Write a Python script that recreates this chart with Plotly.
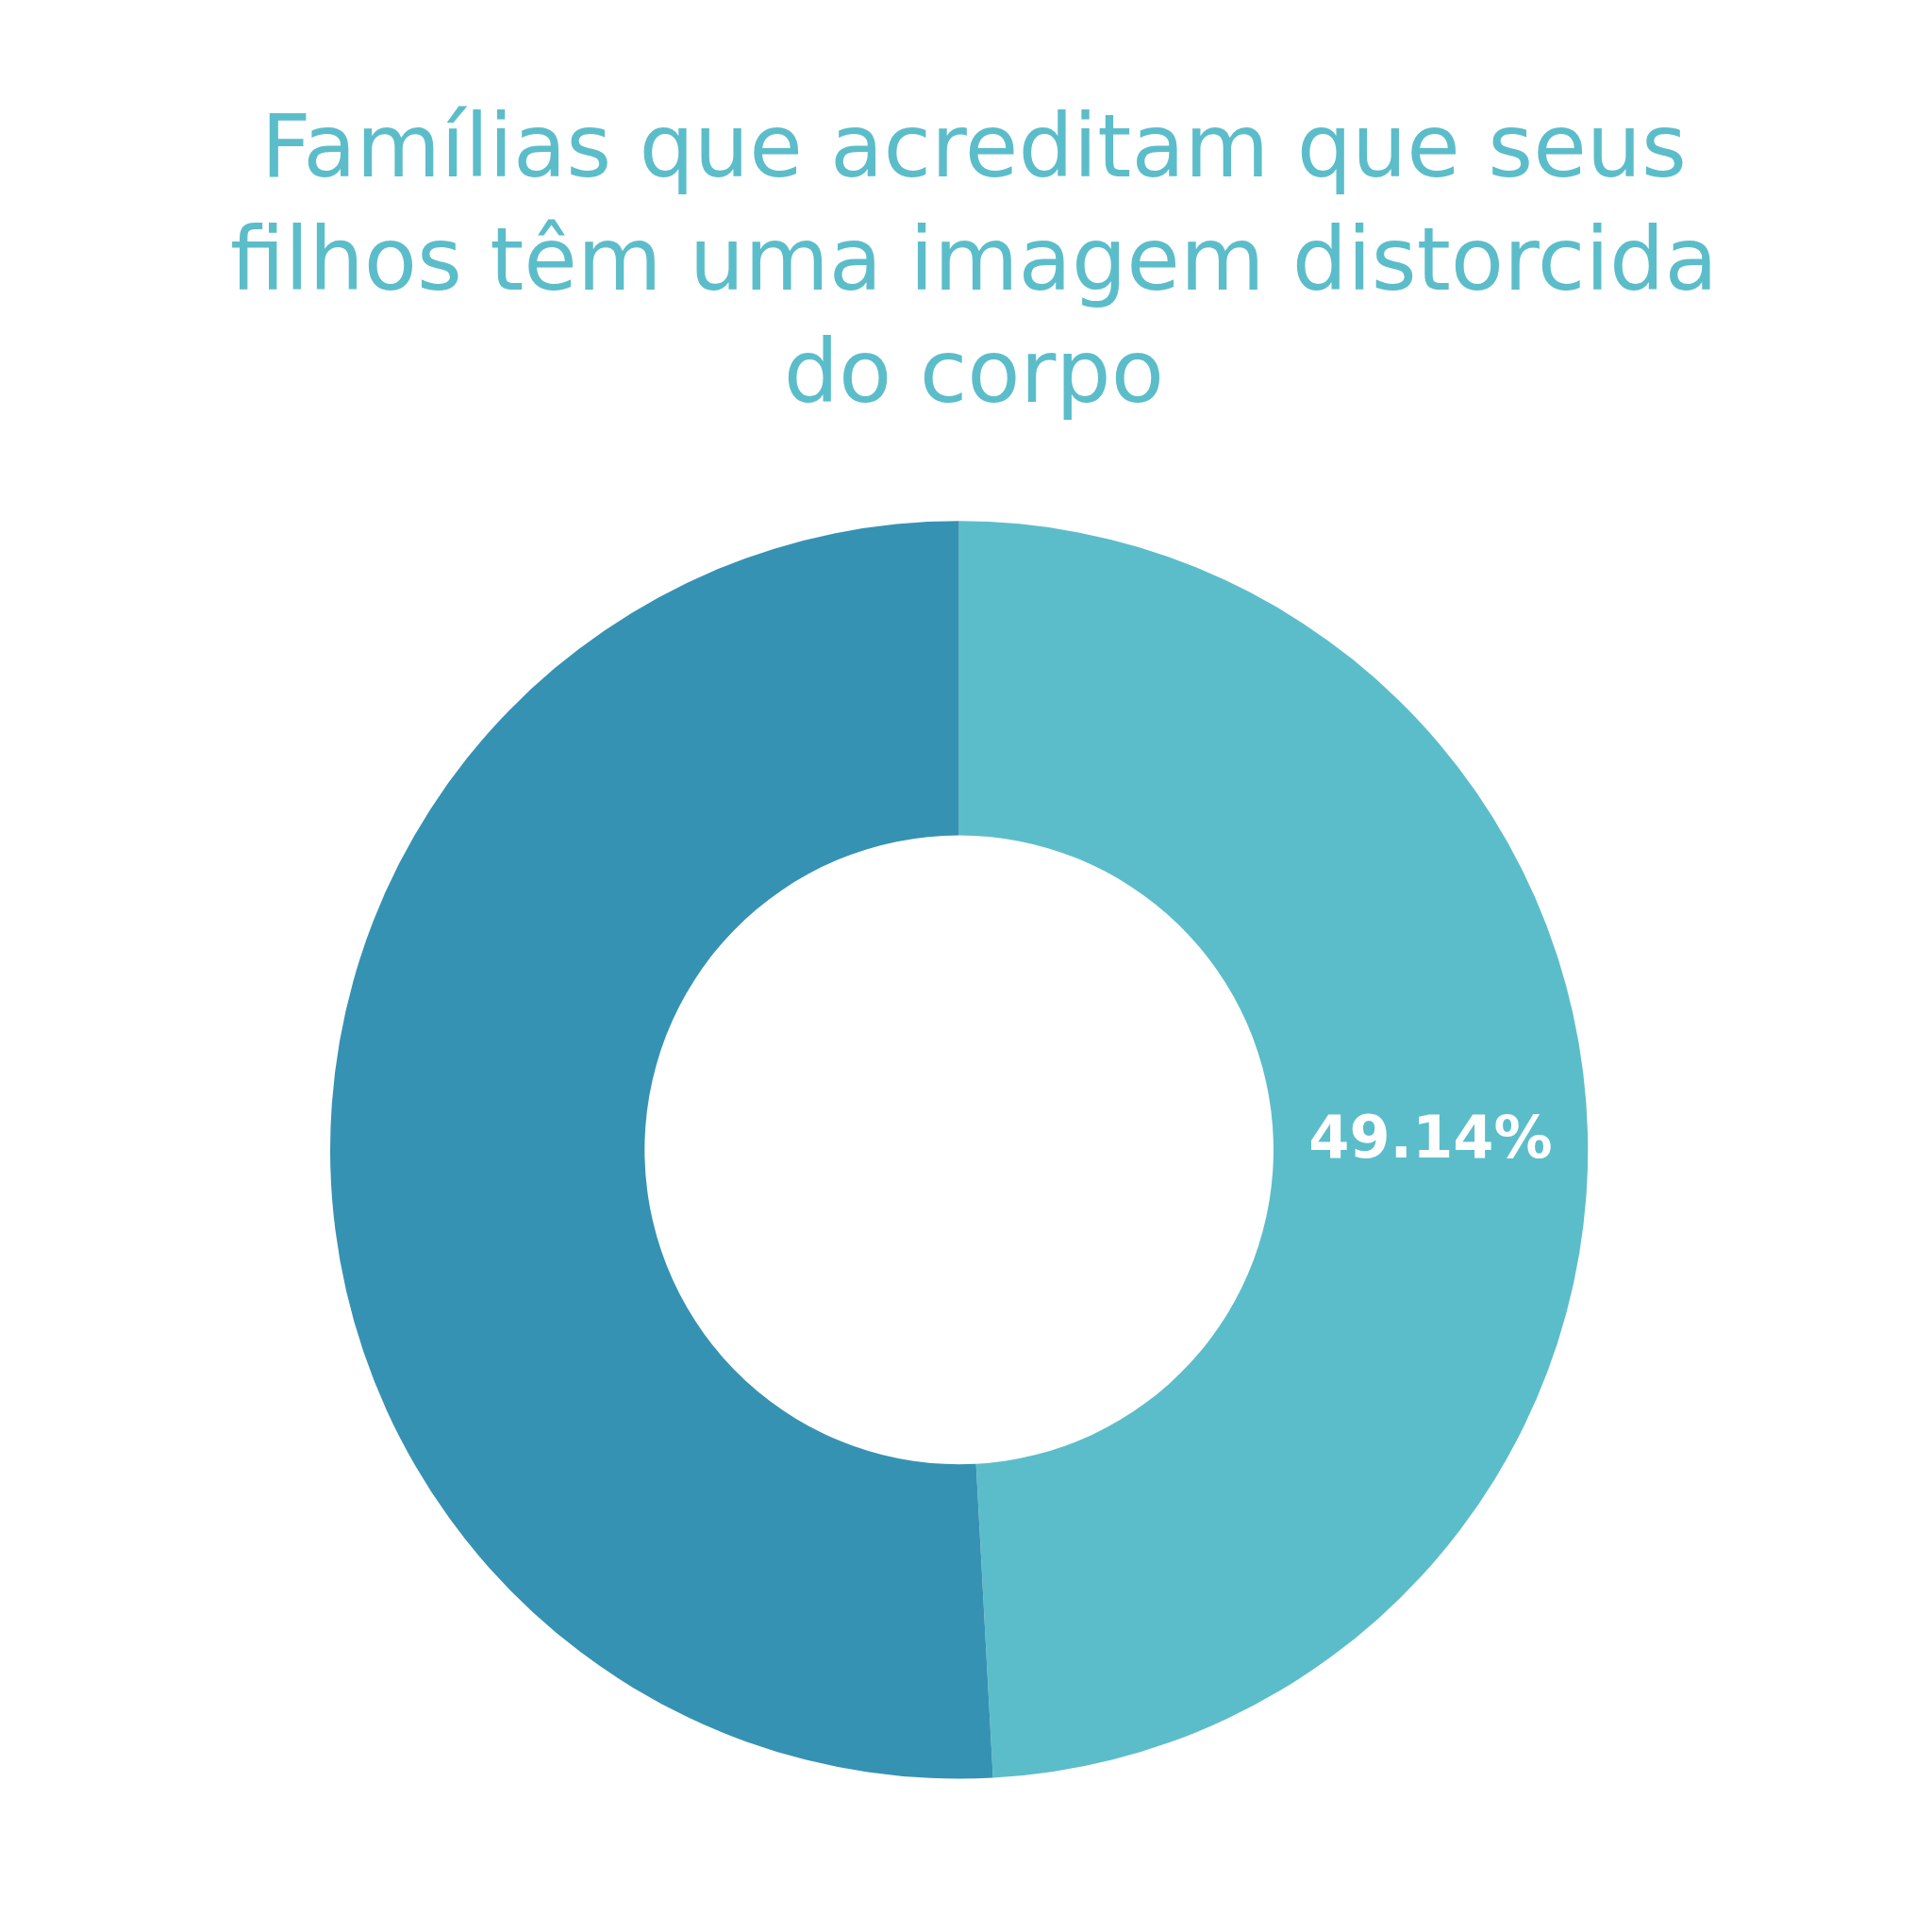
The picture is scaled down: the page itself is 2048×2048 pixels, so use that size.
import plotly.graph_objects as go

labels = ["Sim", "Não"]
values = [49.14, 50.86]
colors = ["#5cbdca", "#3692b3"]
shown_text = ["49.14%", ""]
title_text = "Famílias que acreditam que seus<br>filhos têm uma imagem distorcida<br>do corpo"

fig = go.Figure(
    go.Pie(
        labels=labels,
        values=values,
        hole=0.5,
        sort=False,
        direction="clockwise",
        rotation=0,
        marker=dict(colors=colors),
        text=shown_text,
        textinfo="text",
        textposition="inside",
        insidetextorientation="horizontal",
        textfont=dict(family="DejaVu Sans", size=62, color="white", weight="bold"),
        domain=dict(x=[0.167, 0.818], y=[0.083, 0.7345]),
        showlegend=False,
    )
)

fig.update_layout(
    width=2048,
    height=2048,
    paper_bgcolor="white",
    margin=dict(l=0, r=0, t=0, b=0),
)

# title as an annotation so the three lines sit where the reference has them
fig.add_annotation(
    text=title_text,
    x=0.5,
    y=0.955,
    xref="paper",
    yref="paper",
    xanchor="center",
    yanchor="top",
    showarrow=False,
    font=dict(family="DejaVu Sans", size=92, color="#5cbdca"),
)

fig.write_html("out.html")
